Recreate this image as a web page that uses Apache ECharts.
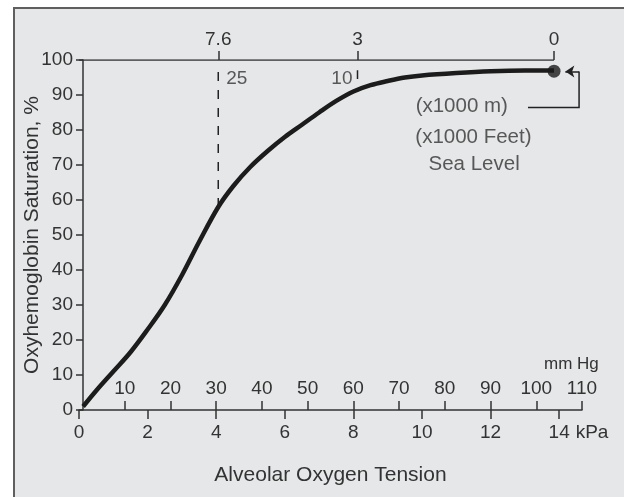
<!DOCTYPE html>
<html><head><meta charset="utf-8">
<script src="https://cdn.jsdelivr.net/npm/echarts@6/dist/echarts.min.js"></script>
<style>
html,body{margin:0;padding:0;background:#fff;overflow:hidden}
#wrap{position:relative;width:624px;height:497px;overflow:hidden}
#frame{position:absolute;left:13px;top:7px;width:640px;height:520px;border:2px solid #5f5f5f;background:#e6e7e8;box-sizing:border-box}
#chart{position:absolute;left:0;top:0;width:624px;height:497px}
</style></head><body>
<div id="wrap"><div id="frame"></div><div id="chart"></div></div>
<script>
// ---- data ----
const pressureKPa = [0.12, 0.5, 1.0, 1.5, 2.0, 2.5, 3.0, 3.5, 4.06, 4.5, 5.0, 5.5, 6.0, 6.5, 7.0, 7.5, 8.0, 8.5, 9.0, 9.5, 10.0, 11.0, 12.0, 13.0, 13.85];
const saturation  = [1.0, 5.5, 11.0, 16.5, 23.0, 30.0, 38.5, 48.0, 58.0, 64.0, 69.5, 74.0, 78.0, 81.5, 85.0, 88.3, 91.0, 92.8, 94.0, 95.0, 95.6, 96.3, 96.8, 97.0, 97.0];
const seaLevelPoint = [13.85, 96.8];
const kPaTicks = [0, 2, 4, 6, 8, 10, 12, 14];
const mmHgTicks = [10, 20, 30, 40, 50, 60, 70, 80, 90, 100, 110];
const mmHgMax = 110;
const kPaPerMmHg = 0.133322;
const kPaMax = mmHgMax * kPaPerMmHg;
const altitudeKPa = [4.06, 8.12, 13.85];
const altitudeKm = ['7.6', '3', '0'];
const altitudeFeetK = ['25', '10'];
const feetMarkTop = 97.1, feetMarkBottom = 94.6;
const dashedBottom = 58.0;
const feetLabelY = 94.6;
const annotations = [
  { text: '(x1000 m)', x: 11.16, y: 86.8 },
  { text: '(x1000 Feet)', x: 11.5, y: 78.0 },
  { text: 'Sea Level', x: 11.52, y: 70.3 }
];
const arrowPath = [[13.09, 86.4], [14.58, 86.4], [14.58, 96.7]];
const arrowHead = [[14.58, 96.7], [14.18, 96.7]];

const FONT = 'Liberation Sans, Arial, sans-serif';
const TXT = '#333';
const LINE = '#333';

const chart = echarts.init(document.getElementById('chart'), null, { renderer: 'canvas' });
const txt = (size) => ({ fontFamily: FONT, fontSize: size, color: TXT });

const option = {
  animation: false,
  backgroundColor: 'transparent',
  grid: { left: 79, right: 42, top: 60, bottom: 87, containLabel: false, outerBoundsMode: 'none' },
  xAxis: [
    {
      type: 'value', position: 'bottom', min: 0, max: kPaMax,
      axisLine: { show: true, onZero: false, lineStyle: { color: LINE, width: 1.5 } },
      axisTick: { show: true, customValues: kPaTicks, length: 9, lineStyle: { color: LINE, width: 1.5 } },
      axisLabel: { customValues: kPaTicks, margin: 13, ...txt(19) },
      splitLine: { show: false },
      name: 'kPa', nameLocation: 'end', nameGap: -8,
      nameTextStyle: { ...txt(19), align: 'left', verticalAlign: 'top', padding: [13, 0, 0, 0] }
    },
    {
      type: 'value', position: 'bottom', min: 0, max: mmHgMax,
      axisLine: { show: false, onZero: false },
      axisTick: { show: true, inside: true, customValues: mmHgTicks, length: 9, lineStyle: { color: LINE, width: 1.5 } },
      axisLabel: { inside: true, customValues: mmHgTicks, margin: 12, ...txt(19) },
      splitLine: { show: false },
      name: 'mm Hg', nameLocation: 'end', nameGap: -38,
      nameTextStyle: { ...txt(17), align: 'left', verticalAlign: 'bottom', padding: [0, 0, 37, 0] }
    },
    {
      type: 'value', position: 'top', min: 0, max: kPaMax,
      axisLine: { show: false, onZero: false },
      axisTick: { show: true, customValues: altitudeKPa, length: 9, lineStyle: { color: LINE, width: 1.5 } },
      axisLabel: {
        customValues: altitudeKPa, margin: 11, ...txt(19),
        formatter: (v) => { const i = altitudeKPa.findIndex(a => Math.abs(a - v) < 1e-6); return i >= 0 ? altitudeKm[i] : ''; }
      },
      splitLine: { show: false }
    },
    {
      type: 'value', position: 'bottom', min: 0, max: kPaMax,
      axisLine: { show: false, onZero: false }, axisTick: { show: false }, axisLabel: { show: false },
      splitLine: { show: false },
      name: 'Alveolar Oxygen Tension', nameLocation: 'middle', nameGap: 55,
      nameTextStyle: txt(21)
    }
  ],
  yAxis: [{
    type: 'value', position: 'left', min: 0, max: 100, interval: 10, offset: -4,
    axisLine: { show: true, lineStyle: { color: LINE, width: 1.5 } },
    axisTick: { show: true, length: 7, lineStyle: { color: LINE, width: 1.5 } },
    axisLabel: { margin: 10, ...txt(19) },
    splitLine: { show: false },
    name: 'Oxyhemoglobin Saturation, %', nameLocation: 'middle', nameGap: 40, nameMoveOverlap: false,
    nameTextStyle: txt(21)
  }],
  series: [
    {
      type: 'line', xAxisIndex: 0, data: [[0, 100], [altitudeKPa[altitudeKPa.length - 1], 100]],
      symbol: 'none', lineStyle: { color: LINE, width: 1.5 }, silent: true, z: 1
    },
    {
      type: 'line', xAxisIndex: 0, data: [[altitudeKPa[0], dashedBottom], [altitudeKPa[0], feetMarkTop]],
      symbol: 'none', lineStyle: { color: '#222', width: 1.5, type: [9, 9] }, silent: true, z: 1
    },
    {
      type: 'line', xAxisIndex: 0, data: [[altitudeKPa[1], feetMarkBottom], [altitudeKPa[1], feetMarkTop]],
      symbol: 'none', lineStyle: { color: '#222', width: 1.5 }, silent: true, z: 1
    },
    {
      type: 'line', xAxisIndex: 0, data: pressureKPa.map((p, i) => [p, saturation[i]]),
      smooth: 0.35, symbol: 'none', lineStyle: { color: '#1c1c1c', width: 4.5 }, z: 3
    },
    {
      type: 'scatter', xAxisIndex: 0, data: [seaLevelPoint], symbolSize: 13,
      itemStyle: { color: '#1c1c1c' }, z: 4
    },
    {
      type: 'scatter', xAxisIndex: 0, symbolSize: 0,
      data: [
        { value: [altitudeKPa[0], feetLabelY, altitudeFeetK[0]], label: { position: 'right', distance: 8 } },
        { value: [altitudeKPa[1], feetLabelY, altitudeFeetK[1]], label: { position: 'left', distance: 5 } }
      ],
      label: { show: true, formatter: (p) => p.value[2], ...txt(19) }, silent: true
    },
    {
      type: 'scatter', xAxisIndex: 0, symbolSize: 0,
      data: annotations.map(a => [a.x, a.y, a.text]),
      label: { show: true, position: 'inside', formatter: (p) => p.value[2], ...txt(20.5) }, silent: true
    },
    {
      type: 'lines', coordinateSystem: 'cartesian2d', xAxisIndex: 0, polyline: true,
      data: [{ coords: arrowPath }],
      lineStyle: { color: '#222', width: 1.5, opacity: 1 }, silent: true, z: 2
    },
    {
      type: 'lines', coordinateSystem: 'cartesian2d', xAxisIndex: 0,
      data: [{ coords: arrowHead }],
      symbol: ['none', 'arrow'], symbolSize: [0, 9],
      lineStyle: { color: '#222', width: 1.5, opacity: 1 }, silent: true, z: 2
    }
  ]
};
chart.setOption(option);
</script>
</body></html>
